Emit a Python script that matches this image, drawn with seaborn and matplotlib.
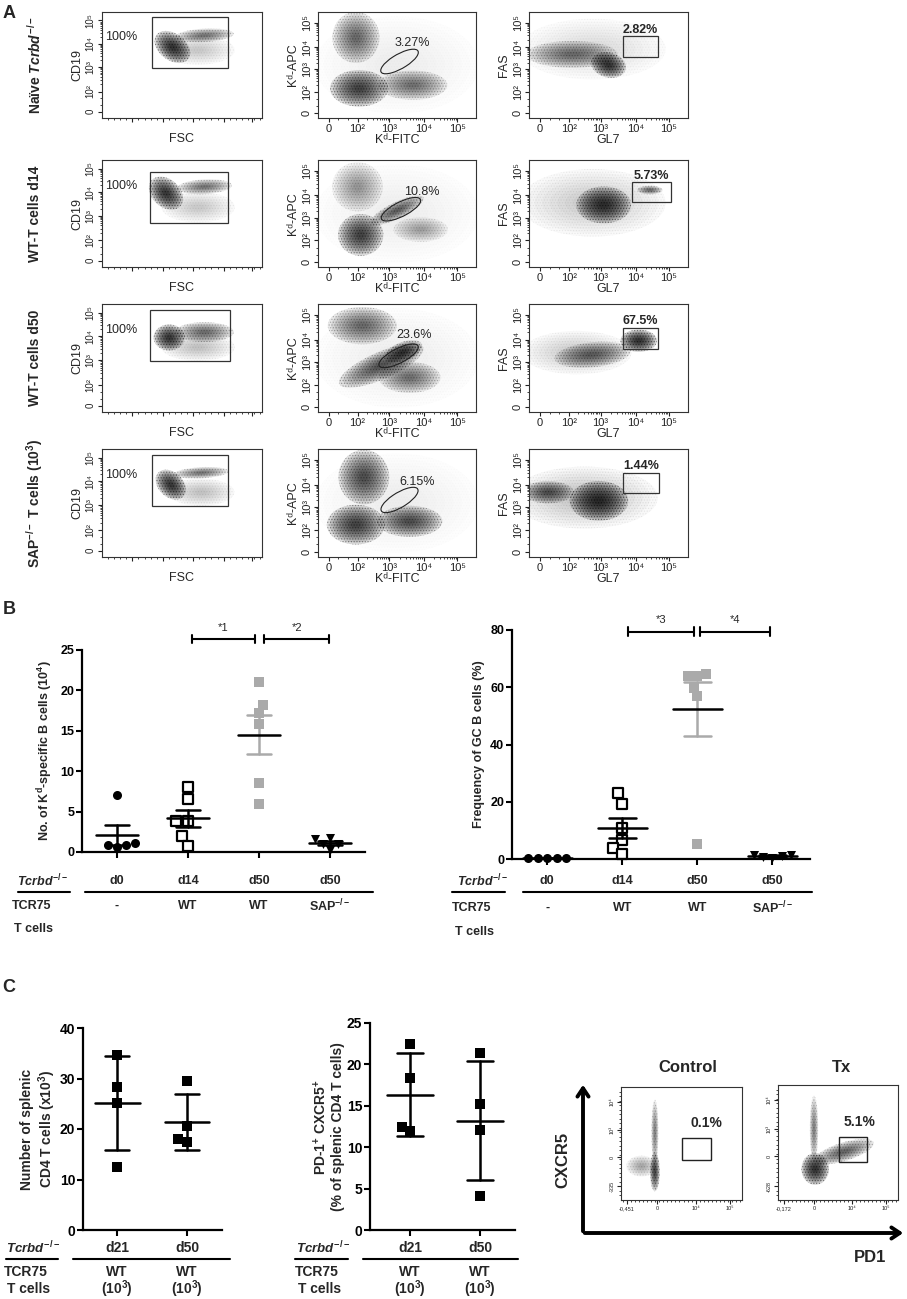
import numpy as np
import pandas as pd
import matplotlib
matplotlib.use('Agg')
import matplotlib.pyplot as plt
import matplotlib.transforms as mtransforms
import seaborn as sns
from matplotlib.lines import Line2D
from matplotlib.patches import Ellipse, Rectangle, FancyArrowPatch

# ---- data ----
row_labels = [r'Naïve $\mathit{Tcrbd}^{-/-}$', 'WT-T cells d14', 'WT-T cells d50',
              r'SAP$^{-/-}$ T cells (10$^{3}$)']
cd19_pct = ['100%', '100%', '100%', '100%']
kd_pct = ['3.27%', '10.8%', '23.6%', '6.15%']
gc_pct = ['2.82%', '5.73%', '67.5%', '1.44%']
tfh_pct = ['0.1%', '5.1%']
tfh_titles = ['Control', 'Tx']

log_ticks = ['0', '10²', '10³', '10⁴', '10⁵']

b_groups = ['d0', 'd14', 'd50 WT', 'd50 SAP']
b_day_labels = ['d0', 'd14', 'd50', 'd50']
b_tcell_labels = ['-', 'WT', 'WT', r'SAP$^{-/-}$']
kd_d0 = [7.1, 0.9, 0.6, 0.9, 1.1]
kd_d14 = [8.0, 6.5, 3.8, 3.8, 2.0, 0.8]
kd_d50 = [21.1, 18.2, 17.2, 15.9, 8.6, 6.0]
kd_sap = [1.7, 1.0, 0.3, 1.0, 1.6]
gc_d0 = [0.5, 0.4, 0.3, 0.4, 0.5]
gc_d14 = [23.0, 19.3, 10.8, 6.7, 3.9, 1.7]
gc_d50 = [64.7, 63.8, 63.8, 59.8, 56.8, 5.2]
gc_sap = [1.5, 1.0, 0.5, 0.8, 1.5]

c_groups = ['d21', 'd50']
cd4_d21 = [34.7, 28.4, 25.1, 12.5]
cd4_d50 = [29.5, 20.5, 17.5, 18.0]
tfh_d21 = [22.5, 18.3, 12.0, 12.5]
tfh_d50 = [21.4, 15.2, 12.1, 4.1]

# gates (channel units scaled 0-1)
cd19_gates = [(0.31, 0.47, 0.79, 0.95), (0.30, 0.41, 0.79, 0.89),
              (0.30, 0.47, 0.80, 0.94), (0.31, 0.47, 0.79, 0.94)]
kd_gates = [(0.516, 0.533, 44), (0.525, 0.54, 40), (0.51, 0.52, 40), (0.516, 0.528, 45)]
gc_gates = [(0.59, 0.58, 0.81, 0.77), (0.65, 0.61, 0.89, 0.79),
            (0.59, 0.58, 0.81, 0.78), (0.59, 0.59, 0.82, 0.78)]
tfh_gates = [(0.50, 0.35, 0.74, 0.55), (0.51, 0.33, 0.74, 0.55)]

# cell populations: centre x, centre y, width, height, angle, density
cd19_clouds = [
    [(0.60, 0.64, 0.40, 0.24, 0, 0.5), (0.64, 0.78, 0.32, 0.11, 5, 1.8), (0.44, 0.67, 0.17, 0.28, 25, 3.4)],
    [(0.60, 0.56, 0.40, 0.25, 0, 0.5), (0.64, 0.75, 0.30, 0.12, 5, 1.8), (0.40, 0.69, 0.17, 0.28, 20, 3.4)],
    [(0.60, 0.60, 0.40, 0.22, 0, 0.6), (0.64, 0.74, 0.32, 0.16, 0, 2.0), (0.42, 0.69, 0.17, 0.21, 0, 3.4)],
    [(0.62, 0.60, 0.36, 0.22, 0, 0.6), (0.62, 0.78, 0.30, 0.09, 5, 1.8), (0.43, 0.67, 0.15, 0.25, 20, 3.4)],
]
kd_clouds = [
    [(0.50, 0.50, 0.90, 0.80, 0, 0.15), (0.24, 0.76, 0.26, 0.42, 0, 2.0),
     (0.60, 0.31, 0.38, 0.24, 0, 1.8), (0.26, 0.28, 0.32, 0.30, 0, 3)],
    [(0.50, 0.50, 0.90, 0.80, 0, 0.15), (0.25, 0.75, 0.28, 0.40, 0, 1.2),
     (0.65, 0.35, 0.30, 0.20, 0, 1.0), (0.50, 0.53, 0.36, 0.12, 38, 2.2), (0.27, 0.30, 0.25, 0.34, 0, 3)],
    [(0.50, 0.50, 0.90, 0.80, 0, 0.2), (0.28, 0.80, 0.38, 0.30, 0, 2),
     (0.58, 0.32, 0.34, 0.25, 0, 1.8), (0.40, 0.43, 0.55, 0.20, 35, 2.4), (0.54, 0.56, 0.24, 0.14, 38, 2.6)],
    [(0.50, 0.50, 0.90, 0.80, 0, 0.15), (0.29, 0.74, 0.28, 0.44, 0, 2.6),
     (0.58, 0.33, 0.36, 0.25, 0, 2.6), (0.24, 0.30, 0.32, 0.32, 0, 3)],
]
gc_clouds = [
    [(0.40, 0.65, 0.80, 0.50, 0, 0.35), (0.27, 0.60, 0.50, 0.22, 0, 1.8), (0.50, 0.50, 0.18, 0.22, 30, 3.4)],
    [(0.40, 0.60, 0.80, 0.55, 0, 0.5), (0.47, 0.58, 0.30, 0.30, 10, 3.4), (0.76, 0.72, 0.14, 0.07, 0, 2)],
    [(0.30, 0.55, 0.60, 0.35, 0, 0.5), (0.40, 0.53, 0.42, 0.20, 10, 2.0), (0.69, 0.66, 0.20, 0.18, 0, 3.6)],
    [(0.35, 0.55, 0.80, 0.50, 0, 0.6), (0.12, 0.60, 0.28, 0.18, 0, 2.4), (0.44, 0.52, 0.32, 0.32, 0, 3.6)],
]
tfh_clouds = [
    [(0.17, 0.30, 0.22, 0.16, 0, 1), (0.28, 0.60, 0.05, 0.50, 0, 1.6), (0.28, 0.25, 0.07, 0.30, 0, 3)],
    [(0.55, 0.42, 0.45, 0.14, 18, 2.2), (0.30, 0.62, 0.06, 0.50, 0, 1.6), (0.31, 0.27, 0.20, 0.24, 0, 3.6)],
]

# ---- style ----
sns.set_theme(style='ticks')
plt.rcParams['font.family'] = ['Liberation Sans', 'DejaVu Sans']
plt.rcParams['mathtext.fontset'] = 'custom'
plt.rcParams['mathtext.rm'] = 'Liberation Sans:bold'
plt.rcParams['mathtext.it'] = 'Liberation Sans:italic:bold'
plt.rcParams['mathtext.bf'] = 'Liberation Sans:bold'
plt.rcParams['hatch.linewidth'] = 0.6

W, H = 907, 1299
fig = plt.figure(figsize=(W / 100, H / 100), dpi=100)


def px_axes(x0, y0, x1, y1):
    return fig.add_axes([x0 / W, 1 - y1 / H, (x1 - x0) / W, (y1 - y0) / H])


def ftext(x, y, s, **kw):
    kw.setdefault('ha', 'center')
    kw.setdefault('va', 'center')
    fig.text(x / W, 1 - y / H, s, **kw)


def fline(x0, x1, y, lw=1.5):
    fig.add_artist(Line2D([x0 / W, x1 / W], [1 - y / H] * 2, color='black', lw=lw))


def cloud(ax, cx, cy, w, h, ang, level):
    # stacked translucent ellipses + stipple hatch stand in for the cell dots
    lv = level / 3.0
    ax.add_patch(Ellipse((cx, cy), w * 1.15, h * 1.15, angle=ang, facecolor='none',
                         edgecolor=(0, 0, 0, min(1, 0.35 * lv)), hatch='......', lw=0))
    for s in np.linspace(1.15, 0.2, 9):
        ax.add_patch(Ellipse((cx, cy), w * s, h * s, angle=ang, facecolor='black',
                             alpha=min(1, 0.13 * lv), lw=0))


def log_minor(pos):
    out = []
    for a, b in zip(pos[1:-1], pos[2:]):
        out += [a + np.log10(k) * (b - a) for k in range(2, 10)]
    out += [pos[0] + (pos[1] - pos[0]) * f for f in (0.33, 0.66)]
    return out


def flow_frame(ax, xt, yt, xl, yl, fs=7):
    ax.set_xlim(0, 1)
    ax.set_ylim(0, 1)
    for sp in ax.spines.values():
        sp.set_linewidth(0.8)
        sp.set_color('#333333')
    ax.set_xticks(xt)
    ax.set_yticks(yt)
    ax.set_xticklabels(xl, fontsize=fs)
    ax.set_yticklabels(yl, fontsize=fs, rotation=90, va='center')
    ax.tick_params(length=3, width=0.8, pad=1.5, colors='#222222')
    ax.tick_params(which='minor', length=1.5, width=0.6)


# ---- panel A ----
rows_px = [(12, 118), (160, 267), (304, 412), (449, 557)]
cols_px = [(102, 262), (318, 476), (529, 688)]
kd_xt = [0.07, 0.25, 0.45, 0.67, 0.88]
kd_yt = [0.05, 0.25, 0.46, 0.67, 0.90]
cd19_yt = [0.06, 0.25, 0.48, 0.70, 0.92]
fsc_xt = [0.19, 0.38, 0.57, 0.76, 0.94]
kd_pct_pos = [(0.60, 0.71), (0.66, 0.70), (0.61, 0.71), (0.63, 0.69)]

ftext(9, 13, 'A', fontsize=13, fontweight='bold')

for r, (y0, y1) in enumerate(rows_px):
    ftext(35, (y0 + y1) / 2, row_labels[r], rotation=90, fontsize=10, fontweight='bold')

    # CD19 vs FSC
    ax = px_axes(cols_px[0][0], y0, cols_px[0][1], y1)
    for c in cd19_clouds[r]:
        cloud(ax, *c)
    flow_frame(ax, fsc_xt, cd19_yt, [''] * 5, log_ticks)
    ax.set_xticks([f * 0.038 for f in range(1, 27)], minor=True)
    ax.set_yticks(log_minor(cd19_yt), minor=True)
    gx0, gy0, gx1, gy1 = cd19_gates[r]
    ax.add_patch(Rectangle((gx0, gy0), gx1 - gx0, gy1 - gy0, fill=False, ec='#333333', lw=0.9))
    ax.text(0.02, 0.76, cd19_pct[r], fontsize=9, ha='left', va='center')
    ax.set_xlabel('FSC', fontsize=9, labelpad=6)
    ax.set_ylabel('CD19', fontsize=9, labelpad=2)

    # Kd-APC vs Kd-FITC
    ax = px_axes(cols_px[1][0], y0, cols_px[1][1], y1)
    for c in kd_clouds[r]:
        cloud(ax, *c)
    flow_frame(ax, kd_xt, kd_yt, log_ticks, log_ticks, fs=8)
    ax.set_xticks(log_minor(kd_xt), minor=True)
    ax.set_yticks(log_minor(kd_yt), minor=True)
    ex, ey, ea = kd_gates[r]
    ax.add_patch(Ellipse((ex, ey), 0.31, 0.12, angle=ea, fill=False, ec='#222222', lw=0.8))
    ax.text(kd_pct_pos[r][0], kd_pct_pos[r][1], kd_pct[r], fontsize=9, ha='center', va='center')
    ax.set_xlabel('K\u1d48-FITC', fontsize=9, labelpad=0)
    ax.set_ylabel('K\u1d48-APC', fontsize=9, labelpad=2)

    # FAS vs GL7
    ax = px_axes(cols_px[2][0], y0, cols_px[2][1], y1)
    for c in gc_clouds[r]:
        cloud(ax, *c)
    flow_frame(ax, kd_xt, kd_yt, log_ticks, log_ticks, fs=8)
    ax.set_xticks(log_minor(kd_xt), minor=True)
    ax.set_yticks(log_minor(kd_yt), minor=True)
    gx0, gy0, gx1, gy1 = gc_gates[r]
    ax.add_patch(Rectangle((gx0, gy0), gx1 - gx0, gy1 - gy0, fill=False, ec='#333333', lw=0.9))
    ax.text((gx0 + gx1) / 2, gy1 + 0.06, gc_pct[r], fontsize=9, fontweight='bold',
            ha='center', va='center')
    ax.set_xlabel('GL7', fontsize=9, labelpad=0)
    ax.set_ylabel('FAS', fontsize=9, labelpad=2)


# ---- dot plots ----
def dot_panel(ax, groups, series, colors, markers, open_mk, err, mean_w, cap_w):
    rows = [(g, v) for g, vals in zip(groups, series) for v in vals]
    df = pd.DataFrame(rows, columns=['group', 'value'])
    for i, g in enumerate(groups):
        sub = df[df['group'] == g]
        if open_mk[i]:
            sns.swarmplot(data=sub, x='group', y='value', order=groups, marker=markers[i],
                          color='white', edgecolor=colors[i], linewidth=1.6, size=6.5,
                          ax=ax, clip_on=False, zorder=2)
        else:
            sns.swarmplot(data=sub, x='group', y='value', order=groups, marker=markers[i],
                          color=colors[i], linewidth=0, size=6.5, ax=ax, clip_on=False,
                          zorder=2)
    summ = df.groupby('group', sort=False)['value'].agg(['mean', 'std', 'count'])
    for i, g in enumerate(groups):
        m = summ.loc[g, 'mean']
        e = summ.loc[g, 'std']
        if err == 'se':
            e = e / np.sqrt(summ.loc[g, 'count'])
        bc = colors[i]
        ax.plot([i, i], [m - e, m + e], color=bc, lw=1.8, clip_on=False, zorder=3)
        for y in (m - e, m + e):
            ax.plot([i - cap_w, i + cap_w], [y, y], color=bc, lw=1.8, clip_on=False, zorder=3)
        ax.plot([i - mean_w, i + mean_w], [m, m], color='black', lw=1.8, clip_on=False, zorder=4)


def dot_frame(ax, xlim, ylim, yticks, ylabel, fs=9):
    ax.set_xlim(*xlim)
    ax.set_ylim(*ylim)
    ax.set_yticks(yticks)
    ax.set_yticklabels([str(t) for t in yticks], fontsize=fs, fontweight='bold')
    ax.set_xticks(range(len(ax.get_xticks())))
    ax.set_xticklabels([])
    ax.set_xlabel('')
    ax.set_ylabel(ylabel, fontsize=fs, fontweight='bold')
    for s in ('top', 'right'):
        ax.spines[s].set_visible(False)
    for s in ('left', 'bottom'):
        ax.spines[s].set_linewidth(1.6)
        ax.spines[s].set_color('black')
    ax.tick_params(length=4, width=1.5, pad=1.5, colors='black')


def bracket(ax, x0, x1, y, label, h):
    ax.plot([x0, x1], [y, y], color='black', lw=1.5, clip_on=False)
    for x in (x0, x1):
        ax.plot([x, x], [y - h, y + h], color='black', lw=1.5, clip_on=False)
    ax.text((x0 + x1) / 2, y + 2.6 * h, label, fontsize=8, ha='center', va='center')


def cat_labels(ax, labels, y, fs=9):
    tr = mtransforms.blended_transform_factory(ax.transData, fig.transFigure)
    for i, s in enumerate(labels):
        ax.text(i, 1 - y / H, s, transform=tr, ha='center', va='center',
                fontsize=fs, fontweight='bold')


gray = '#aaaaaa'
b_colors = ['black', 'black', gray, 'black']
b_markers = ['o', 's', 's', 'v']
b_open = [False, True, False, False]

ftext(9, 610, 'B', fontsize=13, fontweight='bold')

ax = px_axes(82, 650, 365, 852)
dot_panel(ax, b_groups, [kd_d0, kd_d14, kd_d50, kd_sap], b_colors, b_markers, b_open,
          'se', 0.3, 0.17)
dot_frame(ax, (-0.49, 3.49), (0, 25), [0, 5, 10, 15, 20, 25],
          r'No. of K$^{\mathrm{d}}$-specific B cells (10$^{4}$)')
bracket(ax, 1.05, 1.94, 26.4, '*1', 0.5)
bracket(ax, 2.07, 2.99, 26.4, '*2', 0.5)
cat_labels(ax, b_day_labels, 881)
cat_labels(ax, b_tcell_labels, 906)
ftext(43, 881, r'$\mathit{Tcrbd}^{-/-}$', fontsize=9)
fline(18, 70, 892)
fline(85, 373, 892)
ftext(12, 906, 'TCR75', ha='left', fontsize=9, fontweight='bold')
ftext(14, 929, 'T cells', ha='left', fontsize=9, fontweight='bold')

ax = px_axes(512, 630, 810, 859)
dot_panel(ax, b_groups, [gc_d0, gc_d14, gc_d50, gc_sap], b_colors, b_markers, b_open,
          'se', 0.33, 0.18)
dot_frame(ax, (-0.47, 3.5), (0, 80), [0, 20, 40, 60, 80], 'Frequency of GC B cells (%)')
bracket(ax, 1.07, 1.96, 79.4, '*3', 1.6)
bracket(ax, 2.03, 2.97, 79.4, '*4', 1.6)
cat_labels(ax, b_day_labels, 881)
cat_labels(ax, b_tcell_labels, 908)
ftext(483, 881, r'$\mathit{Tcrbd}^{-/-}$', fontsize=9)
fline(452, 505, 892)
fline(523, 812, 892)
ftext(452, 908, 'TCR75', ha='left', fontsize=9, fontweight='bold')
ftext(455, 932, 'T cells', ha='left', fontsize=9, fontweight='bold')

# ---- panel C ----
ftext(9, 988, 'C', fontsize=13, fontweight='bold')
c_colors = ['black', 'black']
c_markers = ['s', 's']
c_open = [False, False]


def c_table(ax, x_tc, ul, line, x_lab):
    cat_labels(ax, c_groups, 1248, fs=10)
    cat_labels(ax, ['WT', 'WT'], 1272, fs=10)
    cat_labels(ax, [r'(10$^{3}$)', r'(10$^{3}$)'], 1289, fs=10)
    ftext(x_tc, 1248, r'$\mathit{Tcrbd}^{-/-}$', fontsize=9.5)
    fline(ul[0], ul[1], 1259)
    fline(line[0], line[1], 1259)
    ftext(x_lab, 1272, 'TCR75', ha='left', fontsize=10, fontweight='bold')
    ftext(x_lab + 3, 1289, 'T cells', ha='left', fontsize=10, fontweight='bold')


ax = px_axes(83, 1028, 222, 1230)
dot_panel(ax, c_groups, [cd4_d21, cd4_d50], c_colors, c_markers, c_open, 'sd', 0.32, 0.17)
dot_frame(ax, (-0.49, 1.5), (0, 40), [0, 10, 20, 30, 40],
          'Number of splenic\nCD4 T cells (x10$^{3}$)', fs=10)
ax.yaxis.labelpad = 1
c_table(ax, 33, (6, 58), (73, 230), 4)

ax = px_axes(370, 1023, 515, 1230)
dot_panel(ax, c_groups, [tfh_d21, tfh_d50], c_colors, c_markers, c_open, 'sd', 0.33, 0.18)
dot_frame(ax, (-0.57, 1.5), (0, 25), [0, 5, 10, 15, 20, 25],
          'PD-1$^{+}$ CXCR5$^{+}$\n(% of splenic CD4 T cells)', fs=10)
ax.yaxis.labelpad = 1
c_table(ax, 323, (295, 348), (363, 518), 295)

# Tfh flow plots
tfh_px = [(621, 1087, 742, 1200), (778, 1085, 898, 1200)]
tfh_title_x = [688, 842]
tfh_pct_x = [0.71, 0.68]
tfh_xt = [0.05, 0.30, 0.62, 0.90]
tfh_yt = [0.12, 0.38, 0.62, 0.87]
tfh_xl = [['-0,451', '0', '10⁴', '10⁵'], ['-0,172', '0', '10⁴', '10⁵']]
tfh_yl = [['-335', '0', '10³', '10⁴'], ['-628', '0', '10³', '10⁴']]
for k, (x0, y0, x1, y1) in enumerate(tfh_px):
    ax = px_axes(x0, y0, x1, y1)
    for c in tfh_clouds[k]:
        cloud(ax, *c)
    flow_frame(ax, tfh_xt, tfh_yt, tfh_xl[k], tfh_yl[k], fs=4)
    ax.set_xticks(np.linspace(0.02, 0.98, 30), minor=True)
    ax.set_yticks(np.linspace(0.04, 0.96, 24), minor=True)
    gx0, gy0, gx1, gy1 = tfh_gates[k]
    ax.add_patch(Rectangle((gx0, gy0), gx1 - gx0, gy1 - gy0, fill=False, ec='#222222', lw=1))
    ax.text(tfh_pct_x[k], 0.68, tfh_pct[k], fontsize=10, fontweight='bold',
            ha='center', va='center')
    ftext(tfh_title_x[k], 1068, tfh_titles[k], fontsize=12, fontweight='bold')

for p0, p1 in [((583, 1234), (583, 1082)), ((582, 1233), (906, 1233))]:
    fig.add_artist(FancyArrowPatch((p0[0] / W, 1 - p0[1] / H), (p1[0] / W, 1 - p1[1] / H),
                                   transform=fig.transFigure,
                                   arrowstyle='->,head_length=6,head_width=4',
                                   lw=2.8, color='black', mutation_scale=1))
ftext(563, 1160, 'CXCR5', rotation=90, fontsize=12, fontweight='bold')
ftext(870, 1257, 'PD1', fontsize=12, fontweight='bold')

fig.savefig('out.png', dpi=100)
